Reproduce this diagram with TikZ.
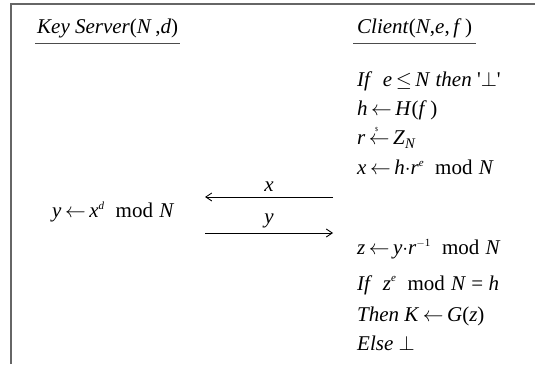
\documentclass[tikz,border=0pt]{standalone}
\usepackage{amsmath}
\usepackage{fontspec}
\setmainfont{Liberation Serif}
\newcommand\I[1]{\textit{#1}}
\newcommand\sups[1]{\raisebox{0.42em}{\fontsize{11}{11}\selectfont #1}}
\newcommand\la{\,$\leftarrow$\,}
\newcommand\rla{\,\rlap{\raisebox{0.62em}{\hspace{0.3em}\fontsize{6}{6}\selectfont\$}}$\leftarrow$\,}
\newcommand\md{\hspace{0.55em}mod\hspace{0.3em}}
\tikzset{
  txt/.style={inner sep=0pt, anchor=base west, font=\fontsize{21}{24}\selectfont},
  frameline/.style={draw=black!60, line width=1.2pt},
  uline/.style={draw=black!70, line width=0.8pt},
  msg/.style={draw=black, line width=0.9pt, -{Straight Barb[length=6pt,width=8pt]}},
  lbl/.style={inner sep=0pt, anchor=base, font=\fontsize{21}{24}\selectfont}
}
\usetikzlibrary{arrows.meta}
\begin{document}
\begin{tikzpicture}[x=1pt,y=1pt]
\useasboundingbox (0,0) rectangle (535,364);
% frame
\coordinate (fb) at (11,0);
\coordinate (ftl) at (11,360);
\coordinate (fr) at (535,360);
\draw[frameline] (fb) -- (ftl) -- (fr);
% headers
\node[txt] (ks) at (37,330) {\I{Key Server}(\I{N}\,,\I{d})};
\node[txt] (cl) at (357,330) {\I{Client}(\I{N},\I{e},\,\I{f}\,)};
\draw[uline] ([xshift=-2pt,yshift=-9pt]ks.base west) -- ([xshift=2pt,yshift=-9pt]ks.base east);
\draw[uline] ([xshift=-4pt,yshift=-9pt]cl.base west) -- ([xshift=4pt,yshift=-9pt]cl.base east);
% client lines
\node[txt] (c1) at (357,277) {\I{If}\ \ \I{e}\,$\le$\,\I{N} \I{then} \textquotesingle$\perp$\textquotesingle};
\node[txt] (c2) at (357,248) {\I{h}\la\I{H}(\I{f}\,)};
\node[txt] (c3) at (357,219) {\I{r}\rla\I{Z}\textsubscript{\I{N}}};
\node[txt] (c4) at (357,189) {\I{x}\la\I{h}$\cdot$\I{r}\sups{\I{e}}\md\I{N}};
\node[txt] (s1) at (52,146) {\I{y}\la\I{x}\sups{\I{d}}\md\I{N}};
\node[txt] (c5) at (357,109) {\I{z}\la\I{y}$\cdot$\I{r}\sups{$-$1}\md\I{N}};
\node[txt] (c6) at (357,74) {\I{If}\ \ \I{z}\sups{\I{e}}\md\I{N} = \I{h}};
\node[txt] (c7) at (357,42) {\I{Then} \I{K}\la\I{G}(\I{z})};
\node[txt] (c8) at (357,14) {\I{Else} $\perp$};
% messages
\coordinate (xa) at (333,167);
\coordinate (xb) at (205,167);
\coordinate (ya) at (205,131);
\coordinate (yb) at (333,131);
\draw[msg] (xa) -- node[lbl, above=5pt] (xl) {\I{x}} (xb);
\draw[msg] (ya) -- node[lbl, above=5pt] (yl) {\I{y}} (yb);
\end{tikzpicture}
\end{document}
